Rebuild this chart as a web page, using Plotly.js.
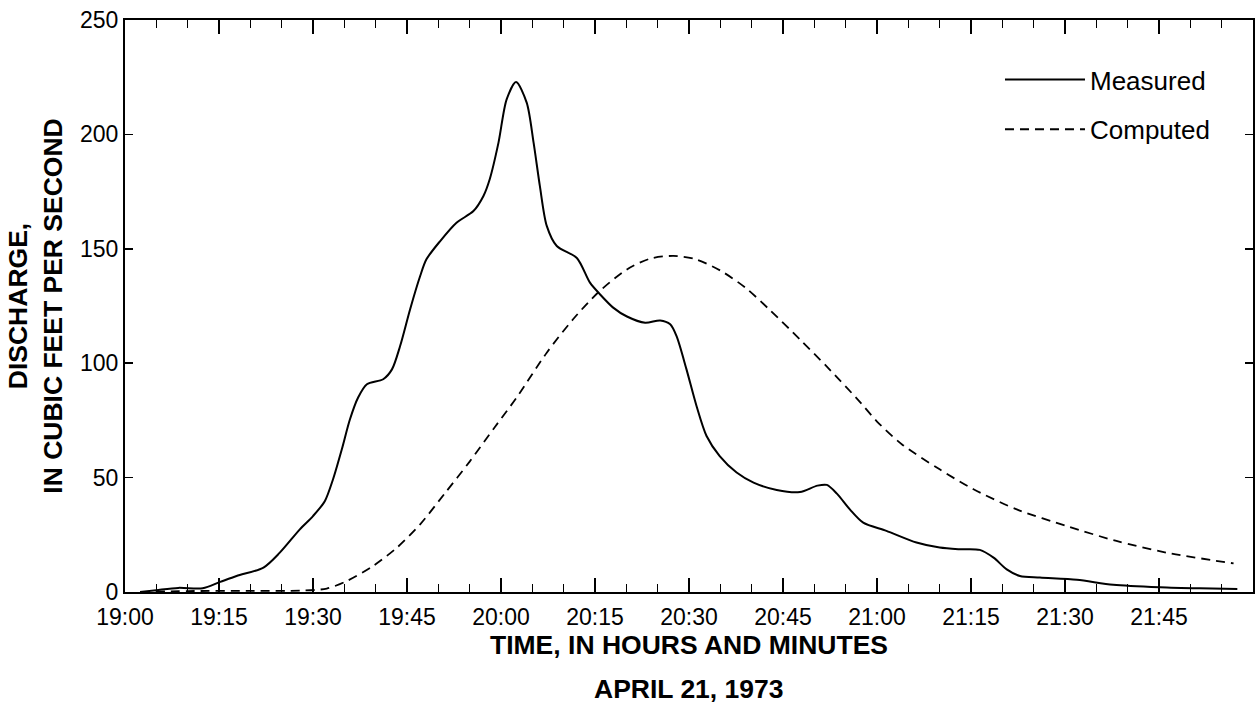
<!DOCTYPE html>
<html>
<head>
<meta charset="utf-8">
<script src="https://cdn.plot.ly/plotly-3.0.1.min.js"></script>
<style>html,body{margin:0;padding:0;background:#fff;}#chart{width:1255px;height:719px;}</style>
</head>
<body>
<div id="chart"></div>
<script>
// Time in minutes after 19:00, April 21, 1973
var measuredTime = [2.4, 5, 8.5, 12.4, 15.2, 17.8, 22.1, 24.7, 27.9, 30.0, 31.9, 33.2, 34.6, 35.9, 37.2, 38.6, 41.2, 42.6, 43.9, 45.5, 47.1, 48.1, 50.3, 52.9, 55.6, 57.2, 58.2, 59.6, 60.9, 62.4, 64.1, 65.2, 66.2, 67.3, 68.9, 72.1, 74.2, 75.8, 77.9, 80.1, 83.0, 85.4, 87.0, 88.0, 89.6, 91.2, 92.8, 94.9, 97.6, 100.3, 104.0, 107.7, 110.5, 112.0, 113.6, 115.7, 117.8, 121.5, 126.3, 130.0, 133.2, 136.4, 138.6, 140.7, 142.8, 146.0, 151.9, 157.7, 165.2, 171.5, 177.5];
var measuredQ = [0, 0.8, 1.8, 1.6, 4.4, 7, 10.7, 17.2, 27.4, 33.2, 39.8, 49.3, 62.4, 75.5, 85, 90.8, 93, 97.3, 107.5, 123.6, 138.1, 145.4, 153.4, 161.4, 166.5, 173.1, 180.4, 196.4, 215.3, 222.9, 213.9, 196.4, 177.5, 160, 151.2, 146, 135.2, 130.1, 124.3, 120.4, 117.7, 118.7, 117, 111.9, 97.3, 81.3, 68.2, 59.4, 52.2, 47.8, 44.6, 43.7, 46.5, 46.8, 43, 36, 30.3, 26.7, 21.6, 19.4, 18.7, 18.4, 15.0, 9.9, 7.0, 6.3, 5.3, 3.2, 2.1, 1.6, 1.3];

var computedTime = [2.5, 10, 20, 28, 32.2, 35.4, 39.6, 43.4, 47.1, 51, 55, 59, 62.5, 67.3, 71.5, 75.5, 80.1, 83.8, 87.5, 91, 95, 99, 103, 107.7, 112, 117.3, 120, 124, 130, 135.4, 142.3, 150.3, 158.2, 166.2, 176.9];
var computedQ = [0, 0.4, 0.5, 0.6, 1.5, 4.8, 11.4, 19.4, 29.6, 43, 57, 72, 85, 104.6, 119.2, 130.9, 141, 145.7, 146.9, 145.5, 140.5, 133, 123, 110.4, 98.5, 83, 74.5, 64.5, 53.6, 44.9, 36.1, 28.8, 22.3, 17.2, 12.5];

var tickMinutes = [0, 15, 30, 45, 60, 75, 90, 105, 120, 135, 150, 165];
var tickLabels = ['19:00', '19:15', '19:30', '19:45', '20:00', '20:15', '20:30', '20:45', '21:00', '21:15', '21:30', '21:45'];

var seriesNames = ['Measured', 'Computed'];

var FONT = 'Liberation Sans, Arial, Helvetica, sans-serif';

var traces = [
  {x: measuredTime, y: measuredQ, name: seriesNames[0], type: 'scatter', mode: 'lines',
   legendgroup: 'm', line: {color: '#000', width: 2, shape: 'spline', smoothing: 0.8}},
  {x: computedTime, y: computedQ, name: seriesNames[1], type: 'scatter', mode: 'lines',
   legendgroup: 'c', line: {color: '#000', width: 1.8, dash: '9px,6px', shape: 'spline', smoothing: 0.8}}
];

var layout = {
  width: 1255, height: 719,
  margin: {l: 125, r: 2, t: 20, b: 126.5, pad: 0},
  paper_bgcolor: '#fff', plot_bgcolor: '#fff',
  font: {family: FONT, color: '#000', size: 23},
  showlegend: true,
  legend: {
    x: 0.7757, y: 0.937, xanchor: 'left', yanchor: 'top',
    bgcolor: 'rgba(0,0,0,0)', borderwidth: 0,
    font: {family: FONT, size: 26, color: '#000'},
    itemwidth: 80, tracegroupgap: 13, traceorder: 'grouped'
  },
  xaxis: {
    range: [0, 180], tickmode: 'array', tickvals: tickMinutes, ticktext: tickLabels,
    showline: true, linecolor: '#000', linewidth: 2, mirror: 'ticks',
    ticks: 'inside', ticklen: 14, tickwidth: 1.5, tickcolor: '#000',
    tickfont: {family: FONT, size: 23, color: '#000'}, ticklabelstandoff: 3,
    showgrid: false, zeroline: false,
    minor: {tickmode: 'linear', tick0: 0, dtick: 5, ticks: 'inside', ticklen: 8, tickwidth: 1.5, tickcolor: '#000', showgrid: false},
    title: {text: 'TIME, IN HOURS AND MINUTES', font: {family: FONT, size: 26.5, weight: 'bold', color: '#000'}, standoff: 7}
  },
  yaxis: {
    range: [0, 250], tickmode: 'linear', tick0: 0, dtick: 50,
    showline: true, linecolor: '#000', linewidth: 2, mirror: 'ticks',
    ticks: 'inside', ticklen: 8, tickwidth: 1.5, tickcolor: '#000',
    tickfont: {family: FONT, size: 23, color: '#000'},
    showgrid: false, zeroline: false,
    title: {text: 'DISCHARGE,<br>IN CUBIC FEET PER SECOND', font: {family: FONT, size: 26.5, weight: 'bold', color: '#000'}, standoff: 10}
  },
  annotations: [
    {text: 'APRIL 21, 1973', xref: 'paper', yref: 'paper', x: 0.5, y: -0.1406, xanchor: 'center', yanchor: 'top',
     showarrow: false, font: {family: FONT, size: 26.5, weight: 'bold', color: '#000'}}
  ]
};

Plotly.newPlot('chart', traces, layout, {displayModeBar: false, staticPlot: true});
</script>
</body>
</html>
